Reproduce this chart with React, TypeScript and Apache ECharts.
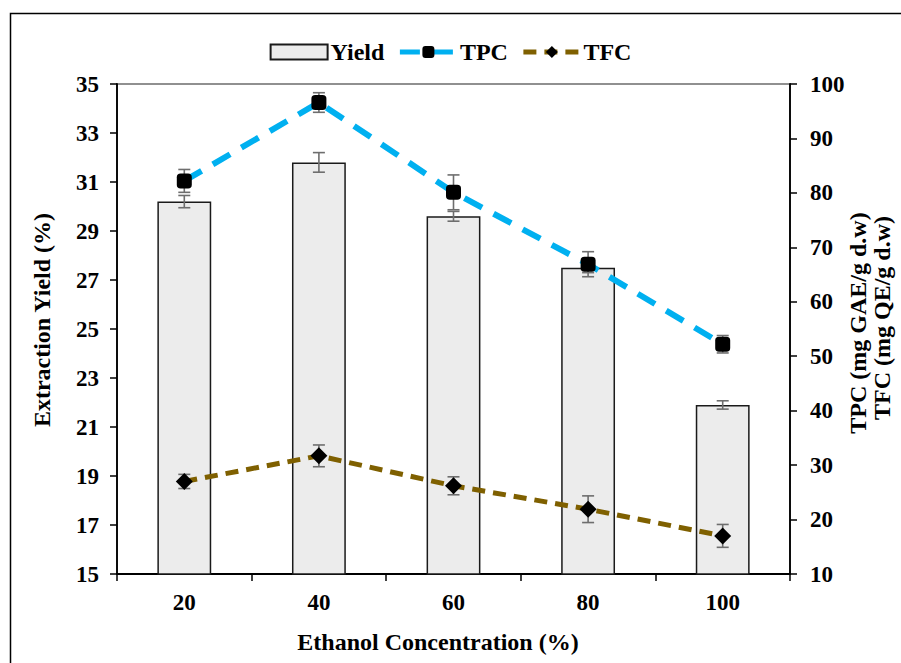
import React, { useEffect, useRef } from 'react';
import * as echarts from 'echarts';

const categories = ['20', '40', '60', '80', '100'];
const yieldValues = [30.2, 31.8, 29.6, 27.5, 21.9];
const yieldErrors = [0.25, 0.4, 0.2, 0.2, 0.17];
const tpcValues = [82.2, 96.6, 80.1, 66.9, 52.2];
const tpcErrors = [2.1, 1.8, 3.2, 2.3, 1.6];
const tfcValues = [27.0, 31.7, 26.2, 21.9, 17.0];
const tfcErrors = [1.3, 2.0, 1.65, 2.45, 2.1];

const leftAxis = { min: 15, max: 35, interval: 2 };
const rightAxis = { min: 10, max: 100, interval: 10 };

const FONT = '"Liberation Serif", "Times New Roman", serif';

function errorSeries(values: number[], errors: number[], yAxisIndex: number, z: number) {
  return {
    type: 'custom',
    name: 'err' + yAxisIndex + '_' + z,
    yAxisIndex,
    z,
    silent: true,
    encode: { x: 0, y: 1 },
    data: values.map((v, i) => [i, v, errors[i]]),
    renderItem: (_params: any, api: any) => {
      const x = api.value(0);
      const v = api.value(1);
      const e = api.value(2);
      const hi = api.coord([x, v + e]);
      const lo = api.coord([x, v - e]);
      const w = 6;
      const style = { stroke: '#6e6e6e', lineWidth: 1.6 };
      return {
        type: 'group',
        children: [
          { type: 'line', shape: { x1: hi[0], y1: hi[1], x2: lo[0], y2: lo[1] }, style },
          { type: 'line', shape: { x1: hi[0] - w, y1: hi[1], x2: hi[0] + w, y2: hi[1] }, style },
          { type: 'line', shape: { x1: lo[0] - w, y1: lo[1], x2: lo[0] + w, y2: lo[1] }, style },
        ],
      };
    },
  };
}

export default function App() {
  const ref = useRef<HTMLDivElement>(null);
  useEffect(() => {
    document.body.style.margin = '0';
    document.body.style.overflow = 'hidden';
    if (!ref.current) return;
    const chart = echarts.init(ref.current, undefined, { renderer: 'svg' });
    const labelStyle = { color: '#000', fontFamily: FONT, fontWeight: 'bold' as const, fontSize: 23 };
    const titleFont = `bold 24px ${FONT}`;
    chart.setOption({
      animation: false,
      backgroundColor: '#fff',
      textStyle: { fontFamily: FONT },
      grid: {
        left: 117,
        right: 111,
        top: 84,
        bottom: 89,
        show: true,
        borderColor: '#222',
        borderWidth: 1.2,
        backgroundColor: 'transparent',
      },
      legend: {
        left: 'center',
        top: 35,
        itemWidth: 57,
        itemHeight: 15,
        itemGap: 13,
        lineStyle: { width: 5 },
        data: [{ name: 'Yield', icon: 'rect' }, { name: 'TPC' }, { name: 'TFC' }],
        textStyle: { color: '#000', fontFamily: FONT, fontWeight: 'bold', fontSize: 24, padding: [0, 0, 0, -2] },
      },
      xAxis: {
        type: 'category',
        data: categories,
        boundaryGap: true,
        axisLine: { lineStyle: { color: '#000', width: 1.8 } },
        axisTick: { show: true, length: 7, alignWithLabel: false, lineStyle: { color: '#000', width: 1.5 } },
        axisLabel: { ...labelStyle, margin: 17 },
        splitLine: { show: false },
      },
      yAxis: [
        {
          type: 'value',
          min: leftAxis.min,
          max: leftAxis.max,
          interval: leftAxis.interval,
          position: 'left',
          axisLine: { show: true, lineStyle: { color: '#000', width: 1.8 } },
          axisTick: { show: true, length: 7, lineStyle: { color: '#000', width: 1.5 } },
          axisLabel: { ...labelStyle, margin: 18 },
          splitLine: { show: false },
        },
        {
          type: 'value',
          min: rightAxis.min,
          max: rightAxis.max,
          interval: rightAxis.interval,
          position: 'right',
          axisLine: { show: true, lineStyle: { color: '#000', width: 1.8 } },
          axisTick: { show: true, length: 7, lineStyle: { color: '#000', width: 1.5 } },
          axisLabel: { ...labelStyle, margin: 20 },
          splitLine: { show: false },
        },
      ],
      graphic: [
        {
          type: 'rect',
          shape: { x: 10.5, y: 13.5, width: 1000, height: 1000 },
          style: { fill: 'none', stroke: '#000', lineWidth: 1.5 },
          silent: true,
          z: -1,
        },
        {
          type: 'text',
          x: 438,
          y: 642,
          style: { text: 'Ethanol Concentration (%)', fill: '#000', align: 'center', verticalAlign: 'middle', font: titleFont },
        },
        {
          type: 'text',
          x: 42,
          y: 320,
          rotation: Math.PI / 2,
          style: { text: 'Extraction Yield (%)', fill: '#000', align: 'center', verticalAlign: 'middle', font: titleFont },
        },
        {
          type: 'text',
          x: 858,
          y: 323,
          rotation: Math.PI / 2,
          style: { text: 'TPC (mg GAE/g d.w)', fill: '#000', align: 'center', verticalAlign: 'middle', font: titleFont },
        },
        {
          type: 'text',
          x: 882,
          y: 318,
          rotation: Math.PI / 2,
          style: { text: 'TFC (mg QE/g d.w)', fill: '#000', align: 'center', verticalAlign: 'middle', font: titleFont },
        },
      ],
      series: [
        {
          name: 'Yield',
          type: 'bar',
          yAxisIndex: 0,
          barWidth: '40%',
          data: yieldValues,
          itemStyle: { color: '#ECECEC', borderColor: '#1a1a1a', borderWidth: 1.5 },
          z: 2,
        },
        errorSeries(yieldValues, yieldErrors, 0, 3),
        errorSeries(tpcValues, tpcErrors, 1, 3),
        errorSeries(tfcValues, tfcErrors, 1, 3),
        {
          name: 'TPC',
          type: 'line',
          yAxisIndex: 1,
          data: tpcValues,
          symbol: 'roundRect',
          symbolSize: 15,
          itemStyle: { color: '#000' },
          lineStyle: { color: '#00B0F0', width: 6, type: [20, 13] },
          z: 4,
        },
        {
          name: 'TFC',
          type: 'line',
          yAxisIndex: 1,
          data: tfcValues,
          symbol: 'diamond',
          symbolSize: 17,
          itemStyle: { color: '#000' },
          lineStyle: { color: '#7F6000', width: 5, type: [13, 8] },
          z: 4,
        },
      ],
    });
    return () => chart.dispose();
  }, []);
  return <div ref={ref} style={{ width: 901, height: 663 }} />;
}
